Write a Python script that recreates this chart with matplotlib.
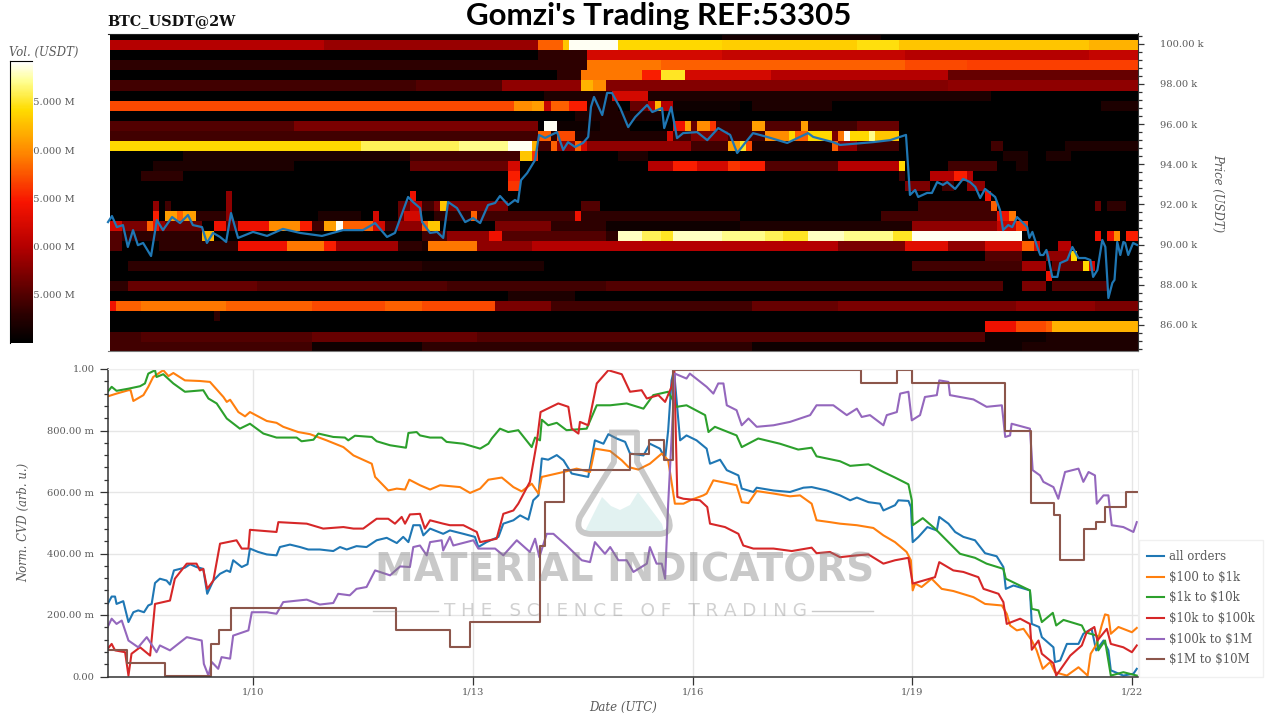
import numpy as np
import matplotlib
matplotlib.use("Agg")
import matplotlib.pyplot as plt
from matplotlib.colors import LinearSegmentedColormap
from matplotlib.path import Path
from matplotlib.patches import PathPatch, Rectangle
from matplotlib.transforms import Affine2D
from matplotlib.ticker import FuncFormatter, MultipleLocator

plt.rcParams['font.family'] = ['DejaVu Serif']
W, H = 1280, 720
GREY = '#5a5a5a'

# ---------------- data: time axis in hours since 8 Jan 00:00 UTC ----------------
date_ticks_h = [48, 120, 192, 264, 336]
date_labels = ['1/10', '1/13', '1/16', '1/19', '1/22']
series_names = ['all orders', '$100 to $1k', '$1k to $10k', '$10k to $100k', '$100k to $1M', '$1M to $10M']

# order-book heat map: price bin (k USDT) -> runs of (first 2 h column, volume in M USDT)
heat_rows = {
    100.5: [(0,10),(100,11.5),(126,10)],
    100.0: [(0,20),(35,18.5),(70,28),(74,33),(75,39),(83,34),(100,33.5),(122,34.5),(129,33),(160,32)],
    99.5: [(0,10),(70,13),(78,22),(100,21),(130,20),(160,21)],
    99.0: [(0,13),(78,29),(90,28),(130,27),(140,26.5)],
    98.5: [(0,10),(73,13),(77,29),(87,25),(90,35),(94,22),(108,20),(137,16)],
    98.0: [(0,14),(50,15),(64,18),(77,32),(79,30),(81,17.5),(137,18)],
    97.5: [(0,10),(71,12),(82,22),(88,12),(144,10)],
    97.0: [(0,27),(66,30),(69,31),(71,21),(72,28),(75,25),(78,12),(83,10),(85,16),(88,20),(89,32),(90,20),(92,11),(103,10),(105,12),(118,10),(162,12)],
    96.5: [(0,10),(76,12),(90,10)],
    96.0: [(0,15),(30,17),(70,10),(71,39),(73,11),(80,12),(85,10),(92,24),(94,31),(95,16),(96,30),(98,26),(99,14),(105,31),(107,15),(113,31),(114,14),(122,16),(129,10)],
    95.5: [(0,14),(70,28),(72,13),(73,27),(76,12),(91,22),(92,14),(95,17),(101,14),(107,30),(111,34),(112,28),(114,34),(118,17),(119,29),(120,39),(121,34),(124,37),(125,33),(129,10)],
    95.0: [(0,34),(41,36),(57,37),(65,39),(69,32),(70,14),(72,28),(73,18),(76,28),(77,22),(78,18),(95,14),(101,31),(103,35),(104,27),(105,12),(118,28),(119,18),(122,14),(129,10),(144,14),(146,10),(156,12)],
    94.5: [(0,10),(12,12),(49,14),(67,33),(69,26),(70,10),(83,12),(88,10),(146,12),(150,10),(153,12),(157,10)],
    94.0: [(0,10),(7,12),(30,10),(49,16),(65,22),(67,10),(88,20),(92,25),(96,22),(101,26),(103,25),(107,15),(119,20),(129,34),(130,10),(137,14),(145,10),(148,12),(150,10)],
    93.5: [(0,10),(5,13),(12,10),(65,25),(67,10),(129,14),(130,10),(134,20),(138,25),(140,20),(141,10)],
    93.0: [(0,10),(65,26),(67,10),(130,17),(134,10),(136,14),(138,10),(140,18),(143,10)],
    92.5: [(0,10),(19,18),(20,10),(49,24),(50,10),(143,24),(144,10)],
    92.0: [(0,10),(7,18),(8,10),(9,14),(10,10),(19,18),(20,10),(47,16),(49,20),(51,14),(53,17),(54,33),(55,17),(65,10),(77,15),(80,10),(132,14),(144,28),(145,10),(161,16),(162,10),(163,13),(166,10)],
    91.5: [(0,10),(7,25),(8,10),(9,31),(11,28),(12,31),(14,13),(19,18),(20,10),(34,12),(41,10),(43,22),(44,10),(47,16),(48,22),(51,10),(53,13),(59,28),(60,14),(76,24),(77,13),(103,10),(126,14),(145,24),(147,29),(148,10)],
    91.0: [(0,22),(2,17),(6,28),(7,24),(8,18),(9,16),(15,10),(17,24),(19,15),(21,24),(26,30),(31,25),(33,14),(35,31),(37,39),(38,28),(43,22),(45,14),(47,18),(51,28),(52,33),(54,10),(63,17),(72,13),(81,11),(103,12),(131,18),(145,21),(148,26),(150,10)],
    90.5: [(0,15),(2,13),(15,32),(17,10),(51,14),(55,18),(62,24),(64,15),(81,13),(83,38),(87,36),(90,35),(92,38),(100,37),(107,36),(110,35),(114,38),(120,37),(128,35),(131,39),(149,10),(161,24),(162,10),(163,24),(164,30),(165,10),(166,25)],
    90.0: [(0,15),(2,10),(8,13),(21,24),(29,29),(35,25),(37,19),(47,13),(51,12),(52,29),(60,18),(69,20),(119,17),(130,23),(137,18),(143,22),(149,28),(151,22),(152,10),(155,20),(157,10)],
    89.5: [(0,10),(143,15),(149,10),(153,18),(157,34),(158,10)],
    89.0: [(0,10),(3,13),(51,12),(71,10),(131,14),(149,19),(153,10),(154,16),(159,34),(160,22),(161,10)],
    88.5: [(0,10),(153,24),(154,10)],
    88.0: [(0,13),(3,16),(24,15),(55,14),(81,15),(146,10),(149,17),(153,10),(154,15),(163,10)],
    87.5: [(0,10),(65,12),(76,10)],
    87.0: [(0,24),(1,28),(5,29),(19,28),(33,27),(45,28),(51,27),(63,17),(72,14),(105,16),(119,17),(148,18),(161,17)],
    86.5: [(0,10),(17,13),(18,10)],
    86.0: [(0,10),(143,24),(148,27),(153,28),(154,32)],
    85.5: [(0,14),(5,15),(33,16),(60,15),(143,11),(153,12)],
    85.0: [(0,14),(33,11),(51,13),(105,11),(149,12)],
}

price_h = [0.5,1.8,3.4,5.4,7.0,8.7,10.3,12.0,14.6,16.5,18.5,21.5,24.1,26.7,28.3,31.3,32.9,34.9,37.2,39.2,40.8,43.1,48,52.6,57.8,63.4,70.6,77.5,84,88,91.9,94.5,98.8,100.4,102.7,103.4,106,108.3,110.3,111.9,114.8,117.5,120.1,122.4,125,127.3,128.9,131.6,133.8,134.8,135.8,137.8,140.4,141.7,143.7,147.6,149.6,151.2,153.5,156.1,157.8,158.7,159.7,162.4,164,165.6,168.3,170.9,173.2,177.1,178.8,182,182.7,185,186.9,188.9,193.5,196.8,200.4,204.3,206.6,209.2,211.8,216.4,223,229.8,231.5,238,240.3,251.1,256.7,261.9,262.6,263.2,264.9,265.9,268.8,270.4,272.1,274,275.4,278,280.6,282.9,284.6,286.2,287.8,291.1,292.7,293.7,295.4,296.7,298.3,300.3,301.6,302.3,303.3,304.9,305.9,306.9,307.9,308.5,309.8,311.5,312.4,314.7,316.4,318.4,320.6,322.3,323.2,324.6,326.2,327.2,328.2,329.5,330.2,331.1,332.1,333.1,333.7,334.7,336.3,337.6]
price_k = [91.12,91.42,90.87,90.97,89.88,90.72,89.97,90.08,89.43,91.22,90.72,91.37,91.07,91.47,90.97,90.87,90.08,90.58,90.38,90.13,91.57,90.33,90.63,90.43,90.78,90.58,90.43,90.72,90.72,91.07,90.38,90.58,92.37,92.12,91.82,91.12,90.58,90.63,90.33,92.12,91.82,91.12,91.32,91.07,91.97,92.07,92.42,91.97,92.22,92.12,93.21,93.56,94.21,95.46,95.31,95.6,94.71,95.1,94.86,95.06,95.36,96.85,97.35,96.45,97.55,97.55,96.8,95.85,96.35,96.95,96.6,96.8,95.8,96.85,95.3,95.55,95.6,95.2,95.8,95.46,94.56,95.06,95.55,95.36,95.06,95.55,95.36,95.1,94.96,95.1,95.2,95.46,93.86,92.47,92.72,92.37,92.57,92.57,93.11,92.97,93.11,92.77,93.27,93.11,92.87,92.32,92.77,92.37,91.72,90.72,90.97,90.87,91.37,91.07,90.87,90.33,90.63,89.88,89.48,89.48,89.73,89.38,88.39,88.39,89.08,89.23,89.88,89.33,89.33,89.23,88.39,88.73,90.23,89.88,87.34,88.09,88.24,90.13,89.48,90.13,90.08,89.48,90.08,89.98]

all_h = [0.4,1.7,2.8,3.3,5.5,7.2,8.8,10.4,12.3,13.7,14.8,15.9,17.5,19.7,20.8,22.1,25.7,27.4,29.5,31.7,33,35,37.2,39.4,40.5,41.5,44.3,46.2,47,49.7,52.5,55.7,56.8,60.1,63.4,66.1,69.9,74.3,76.5,78.7,81.9,85.2,88.5,91.8,95.1,97.2,98.9,100.5,102.7,103.8,106,110.3,112.5,116.9,120.7,121.8,124.5,128.4,130,133.3,135.5,138.2,139.8,141.5,142.6,144.7,147.5,149.7,152.4,157.8,159.5,160,162.8,164.4,167.1,169.9,171.5,175.9,178,181.3,183,184,185.1,185.9,187.9,190,193.3,196.6,197.7,201,203.2,207,208.1,211.9,213,218.5,223.9,228.3,231,235.9,240.3,243.6,245.8,249.6,253.4,254.5,258.3,259.4,262.7,263.5,264.1,266,268.9,272,272.8,275.8,278,280.7,284.5,287.8,291.6,293.8,294.6,297.1,302.5,303.1,305.5,306.4,310.2,310.7,312.4,314.6,318.4,320,322.7,324.2,326.6,328.2,329,333.1,336.4,337.5]
all_v = [.236,.26,.26,.236,.245,.177,.209,.215,.209,.231,.236,.304,.318,.312,.299,.345,.354,.365,.356,.35,.269,.312,.334,.345,.34,.378,.356,.365,.416,.405,.397,.394,.421,.429,.421,.413,.413,.408,.421,.413,.424,.421,.443,.451,.434,.454,.437,.492,.492,.459,.481,.464,.475,.464,.454,.421,.437,.454,.497,.508,.524,.51,.573,.589,.709,.705,.72,.703,.66,.649,.741,.768,.757,.788,.774,.763,.725,.719,.757,.741,.709,.801,.963,.996,.768,.784,.768,.741,.692,.705,.671,.654,.611,.6,.614,.605,.6,.614,.616,.605,.589,.573,.582,.567,.562,.54,.557,.573,.571,.551,.437,.454,.486,.475,.519,.497,.47,.454,.443,.401,.391,.356,.285,.296,.28,.171,.161,.128,.095,.047,.052,.106,.106,.139,.155,.085,.117,.085,.02,.003,.009,.025]

o100_h = [.4,3.3,7.2,7.9,8.8,12.1,13.7,15.3,18.6,20.3,21.9,25.7,30.6,33.9,38.3,39.4,40.5,43.2,45.4,47,52.5,55.7,57.9,62.8,66.7,72.1,77.6,80.9,86.9,88,92.3,95.1,97.8,99.2,102.7,106,109.3,115.8,119.1,122.4,125.1,129.5,133.3,136,139.3,141.5,142.6,149.7,154,158.4,160,165,168.8,171,174.2,178,181.9,184,186.2,189,191.7,195.5,196.6,198.8,203.2,206.4,208.1,210.3,213,218.5,223.9,227.2,231,232.6,237,240.3,245.8,251.2,254.5,258.3,262.1,263.5,264.1,264.9,267,270.3,273.6,277.4,284,287.8,293.3,294.9,296,298.2,300.4,303.1,304.7,306.7,309.1,310.7,314.6,318.4,321.4,322.4,324.4,326,327.1,328.2,329,331.5,335.9,337.5]
o100_v = [.911,.92,.931,.931,.896,.915,.942,.974,.996,.977,.987,.963,.961,.958,.909,.893,.9,.86,.846,.86,.831,.825,.812,.795,.788,.768,.746,.719,.692,.649,.605,.611,.608,.64,.622,.608,.622,.616,.597,.611,.64,.647,.616,.602,.627,.595,.649,.665,.676,.665,.741,.733,.703,.681,.673,.692,.725,.703,.562,.562,.575,.589,.595,.638,.629,.622,.567,.564,.603,.595,.586,.589,.562,.508,.502,.497,.492,.483,.459,.437,.405,.378,.28,.302,.291,.318,.285,.278,.258,.236,.231,.204,.166,.15,.155,.117,.085,.025,.047,.014,.003,.03,.003,.074,.106,.166,.202,.199,.139,.161,.144,.158]

o1k_h = [.4,1.7,3.3,7.2,11,12.6,13.7,15.9,16.4,18.6,21.9,25.7,31.7,33.4,36.1,39.4,43.7,47,51.4,55.7,62.3,63.9,67.8,69.4,74.3,78.1,79.2,81.4,86.9,88.5,92.9,98.1,98.9,101.6,102.7,106,109.8,111.4,116.9,122.4,125.1,126.2,128.9,131.6,134.9,139.3,140.4,142,142.6,144.7,147.5,150.7,157.3,160.6,165,170.4,175.9,179.1,184,186.8,190,196.1,197.2,199.3,206.4,208.1,213.5,220.6,226.6,231,232.6,240.3,243.6,249.6,254.5,258.3,262.7,263.8,264.1,267.4,271.4,275.2,279.6,284.5,288.3,293.8,294.6,302.5,303.1,305.3,306.4,310,311.1,313.5,319.5,320.6,324.4,324.9,327.1,329,333.1,337.5]
o1k_v = [.926,.942,.929,.936,.944,.953,.985,.996,.974,.983,.953,.926,.931,.904,.888,.839,.806,.822,.79,.777,.777,.765,.77,.79,.779,.777,.768,.783,.779,.765,.752,.744,.792,.795,.784,.777,.777,.763,.757,.741,.757,.774,.806,.795,.801,.746,.777,.768,.835,.817,.825,.801,.806,.882,.882,.888,.871,.915,.926,.877,.882,.85,.795,.812,.784,.746,.774,.757,.738,.744,.716,.7,.685,.69,.665,.647,.625,.573,.492,.515,.481,.443,.399,.386,.367,.35,.318,.28,.22,.215,.177,.207,.166,.184,.166,.144,.133,.085,.117,.003,.014,.003]

o10k_h = [.4,1.7,2.8,6.1,7.2,8.2,11,14.3,15.9,20.8,22.4,26.3,29.5,30.6,31.7,33,35,37.2,42.6,44.3,46.5,47,55.7,56.3,65.6,71,77.6,80.9,84.1,88.5,92.3,94.5,96.7,97.8,99.4,102.7,104.3,106,110.3,112.5,116.9,121.3,122.4,127.8,130,133.3,134.9,138.7,140.9,142.2,148,151.3,152.4,154.6,155.1,157.8,160.6,164.4,168.8,171.5,175.3,177,180.8,183,185.1,186,187,189,194.4,196.8,197.7,202.6,207,208.6,211.9,218.5,224.5,231,232.6,237,240.3,245.8,249.6,254.5,258.3,262.7,264.1,267.6,271.4,272.8,277.4,280.7,285.6,287.3,292.2,293.8,294.9,299.3,302.5,303.1,305.3,306.4,310.2,311.1,315.7,319.5,321.1,323.6,324.6,327.7,329,333.1,335.9,337.5]
o10k_v = [.09,.106,.085,.079,.003,.074,.095,.068,.236,.247,.318,.367,.367,.345,.35,.285,.312,.432,.443,.416,.416,.477,.47,.502,.497,.481,.486,.481,.481,.513,.513,.497,.519,.497,.527,.529,.481,.508,.497,.492,.492,.47,.437,.448,.529,.54,.562,.633,.757,.86,.888,.877,.806,.79,.828,.817,.953,.996,.983,.926,.931,.904,.915,.893,.942,.994,.584,.578,.573,.551,.497,.486,.464,.426,.416,.416,.408,.419,.401,.405,.388,.394,.397,.367,.378,.386,.302,.312,.323,.372,.345,.34,.323,.285,.269,.242,.171,.188,.171,.087,.117,.074,.043,.003,.068,.101,.144,.161,.117,.155,.106,.095,.079,.101]

o100k_h = [.4,1.7,3.3,5,7.2,10.4,13.2,16.4,17.5,20.8,26.3,31.2,31.9,33.4,34.5,36.6,37.7,40.5,41.5,46.5,47.6,52.5,55.7,57.9,65.6,69.9,74.3,75.9,79.7,81.9,85.2,88,92.9,96.2,99.4,100.5,102.7,104.9,106,109.8,110.3,112.5,113.6,120.2,121.8,127.3,130,134.4,138.7,140.4,141.8,144.2,146.4,150.7,155.7,158.4,160,163.3,165,167.7,170.4,172.6,177,178,180.2,181.9,183,184,186.2,190,191.1,196.6,198.8,200.4,202.1,203.2,206.4,208.1,210.3,213,218.5,223.9,230.5,232.6,238.1,240.3,242.5,245.8,247.4,250.1,254.5,255.6,258.9,260,262.7,263.8,266.5,268.1,272,272.8,275.8,276.3,284,288.3,293.3,294.4,296,296.5,302.5,303.4,305.8,306.9,310.2,311.8,312.9,314,318.4,320,321.7,323.8,324.4,326.6,328.2,329.3,333.1,336.4,337.5]
o100k_v = [.161,.188,.171,.182,.117,.095,.128,.079,.101,.085,.128,.117,.041,.003,.047,.025,.063,.058,.133,.15,.209,.209,.204,.242,.25,.234,.239,.269,.264,.285,.291,.345,.329,.358,.356,.421,.426,.394,.437,.443,.41,.454,.426,.443,.416,.416,.394,.443,.405,.448,.388,.464,.464,.426,.378,.372,.437,.399,.421,.378,.378,.34,.367,.421,.367,.367,.318,.562,.985,.969,.985,.942,.92,.953,.953,.882,.866,.817,.839,.812,.817,.828,.85,.882,.882,.866,.85,.871,.844,.85,.817,.85,.86,.92,.926,.833,.85,.909,.915,.963,.958,.915,.901,.877,.882,.779,.784,.822,.806,.671,.654,.633,.616,.578,.622,.665,.676,.633,.665,.654,.562,.589,.589,.492,.486,.47,.502]

o1m_h = [0.4,6.8,19.2,34.1,36.7,40.9,95,112.4,119.2,142.1,143.5,149.8,171.6,177.8,182.5,185.7,247,258.8,263.9,294.4,302.9,310.5,312.5,320.3,324,327,334,337.6]
o1m_v = [.087,.043,.002,.106,.152,.223,.15,.097,.177,.426,.567,.67,.722,.768,.705,.996,.955,.996,.955,.8,.565,.524,.378,.479,.504,.551,.6,.6]

# ---------------- helpers ----------------
fig = plt.figure(figsize=(W / 100, H / 100), dpi=100, facecolor='white')
px = Affine2D().scale(1 / W, -1 / H).translate(0, 1) + fig.transFigure


def add_axes_px(x0, y0, x1, y1, **kw):
    return fig.add_axes([x0 / W, 1 - y1 / H, (x1 - x0) / W, (y1 - y0) / H], **kw)


cmap = LinearSegmentedColormap.from_list('book', [
    (0.0, '#000000'), (0.1, '#2c0000'), (0.2, '#640000'), (0.34, '#b40000'), (0.5, '#f81400'),
    (0.67, '#ff8400'), (0.83, '#ffdc00'), (0.93, '#ffff90'), (1.0, '#ffffff')])
VMIN, VMAX = 10, 39.25
TICK_SIZE = 7.1

# ---------------- heat map ----------------
ax = add_axes_px(108, 33.5, 1138, 351)
prices = sorted(heat_rows)
grid = np.full((len(prices), 168), float(VMIN))
for i, p in enumerate(prices):
    runs = heat_rows[p]
    for j, (c, v) in enumerate(runs):
        end = runs[j + 1][0] if j + 1 < len(runs) else 168
        grid[i, c:end] = v
x_edges = np.linspace(1.15, 337.9, 169)
y_edges = np.array([prices[0] - 0.25] + [p + 0.25 for p in prices]) - 0.08
ax.pcolormesh(x_edges, y_edges, grid, cmap=cmap, vmin=VMIN, vmax=VMAX, rasterized=True)
ax.plot(price_h, price_k, color='#1f77b4', lw=1.6, clip_on=False)
ax.set_xlim(0.5, 337.9)
ax.set_ylim(84.70, 100.51)
ax.set_xticks([])
ax.yaxis.tick_right()
ax.yaxis.set_major_locator(MultipleLocator(2))
ax.yaxis.set_minor_locator(MultipleLocator(0.4))
ax.yaxis.set_major_formatter(FuncFormatter(lambda v, _: f'{v:.2f} k'))
ax.tick_params(axis='y', which='major', length=4, width=0.9, color='#333333', labelcolor=GREY,
               labelsize=TICK_SIZE, pad=11.5)
ax.tick_params(axis='y', which='minor', length=3, width=0.9, color='#333333')
ax.spines['left'].set_visible(False)
ax.spines['top'].set_color('#222222')
ax.spines['bottom'].set_color('#777777')
ax.spines['right'].set_color('#333333')
fig.text(1218 / W, 1 - 193 / H, 'Price (USDT)', rotation=270, style='italic', color=GREY,
         fontsize=8.4, ha='center', va='center')

# ---------------- colour bar ----------------
lab = add_axes_px(9.5, 61, 31.5, 343, zorder=1, frameon=False)
lab.set_xticks([])
lab.set_ylim(VMIN, VMAX)
lab.yaxis.tick_right()
lab.set_yticks([15, 20, 25, 30, 35])
lab.set_yticklabels([f'{v}.000 M' for v in [15, 20, 25, 30, 35]])
lab.tick_params(axis='y', length=0, pad=-3, labelsize=TICK_SIZE, labelcolor=GREY)
cax = add_axes_px(9.5, 61, 31.5, 343, zorder=2)
cax.imshow(np.linspace(VMIN, VMAX, 300)[:, None], origin='lower', aspect='auto', cmap=cmap,
           extent=[0, 1, VMIN, VMAX], vmin=VMIN, vmax=VMAX)
cax.set_xticks([])
cax.set_yticks([])
for s in ['bottom', 'right']:
    cax.spines[s].set_visible(False)
for s in ['top', 'left']:
    cax.spines[s].set_linewidth(0.8)
fig.text(44 / W, 1 - 52 / H, 'Vol. (USDT)', style='italic', color=GREY, fontsize=8.4, ha='center', va='center')

# ---------------- CVD lines ----------------
bx = add_axes_px(108, 369, 1138, 676.5)
bx.grid(True, which='major', color='#e6e6e6', lw=1)
bx.set_axisbelow(True)
series = [(all_h, all_v), (o100_h, o100_v), (o1k_h, o1k_v), (o10k_h, o10k_v), (o100k_h, o100k_v)]
colors = ['#1f77b4', '#ff7f0e', '#2ca02c', '#d62728', '#9467bd', '#8c564b']
for (h, v), c, name in zip(series, colors, series_names):
    bx.plot(h, v, color=c, lw=1.5, label=name.replace('$', r'\$'))
bx.step(o1m_h, o1m_v, where='post', color=colors[5], lw=1.5, label=series_names[5].replace('$', r'\$'))
bx.set_xlim(0.5, 337.9)
bx.set_ylim(0, 1)
bx.set_xticks(date_ticks_h)
bx.set_xticklabels(date_labels)
bx.yaxis.set_major_locator(MultipleLocator(0.2))
bx.yaxis.set_minor_locator(MultipleLocator(0.04))
bx.yaxis.set_major_formatter(FuncFormatter(lambda v, _: '1.00' if v > 0.99 else ('0.00' if v < 0.01 else f'{v * 1000:.2f} m')))
bx.tick_params(axis='y', which='major', length=6, width=0.9, color='#333333', labelcolor=GREY, labelsize=TICK_SIZE, pad=3.8)
bx.tick_params(axis='x', which='major', length=6, width=0.9, color='#333333', labelcolor=GREY, labelsize=TICK_SIZE, pad=2)
bx.tick_params(axis='y', which='minor', length=3, width=0.9, color='#333333')
for s in ['top', 'right']:
    bx.spines[s].set_color('#eeeeee')
for s in ['left', 'bottom']:
    bx.spines[s].set_color('#333333')
    bx.spines[s].set_linewidth(1.1)
fig.text(24 / W, 1 - 522 / H, 'Norm. CVD (arb. u.)', rotation=90, style='italic', color=GREY, fontsize=8.4, ha='center', va='center')
fig.text(623 / W, 1 - 707 / H, 'Date (UTC)', style='italic', color=GREY, fontsize=8.5, ha='center', va='center')
fig.add_artist(Rectangle((1139, 540), 124, 137, transform=px, facecolor='white', edgecolor='#f0f0f0', lw=1, zorder=-1))
leg = bx.legend(loc='lower left', bbox_to_anchor=(1139 / W, 1 - 674 / H, 124 / W, 134 / H), bbox_transform=fig.transFigure,
                mode='expand', fontsize=8.5, frameon=False,
                handlelength=1.5, handletextpad=0.35, labelspacing=0.65, borderpad=0.65, borderaxespad=0)
for t in leg.get_texts():
    t.set_color(GREY)
leg.set_zorder(5)

# ---------------- watermark ----------------
WM = '#808080'
teal = Path([(585, 531), (592, 517), (602, 497), (611, 506), (620, 510), (630, 505), (638, 492), (650, 508), (662, 524), (664, 531), (585, 531)])
fig.add_artist(PathPatch(teal, transform=px, facecolor='#dff1f0', edgecolor='none', alpha=0.9, zorder=9))
flask = Path([(609, 432.5), (637, 432.5), (637, 462), (668, 517), (674, 533), (660, 534), (590, 534), (574, 533), (580, 517), (614, 462), (614, 432.5)],
             [Path.MOVETO, Path.LINETO, Path.LINETO, Path.LINETO, Path.CURVE3, Path.CURVE3, Path.LINETO, Path.CURVE3, Path.CURVE3, Path.LINETO, Path.LINETO])
fig.add_artist(PathPatch(flask, transform=px, facecolor='none', edgecolor=WM, alpha=0.42, lw=4.2, zorder=10, joinstyle='round'))
fig.text(624.5 / W, 1 - 570 / H, 'MATERIAL INDICATORS', family='DejaVu Sans', fontweight='bold', fontsize=28, color=WM, alpha=0.42,
         ha='center', va='center', zorder=10)
fig.text(625 / W, 1 - 611 / H, '\u2009\u200a'.join('THE SCIENCE OF TRADING'), family='DejaVu Sans', fontsize=13.3, color=WM, alpha=0.36,
         ha='center', va='center', zorder=10)
for x0, x1 in [(373, 438), (812, 873)]:
    fig.add_artist(plt.Line2D([x0, x1], [611, 611], transform=px, color=WM, alpha=0.42, lw=1, zorder=10))

# ---------------- titles ----------------
fig.text(107 / W, 1 - 21 / H, 'BTC_USDT@2W', fontweight='bold', fontsize=10.4, color='#111111', ha='left', va='center')
fig.text(659 / W, 1 - 16 / H, "Gomzi's Trading REF:53305", family='Lato', fontweight='bold', fontsize=22.5, color='black', ha='center', va='center')

fig.savefig('out.png', dpi=100)
